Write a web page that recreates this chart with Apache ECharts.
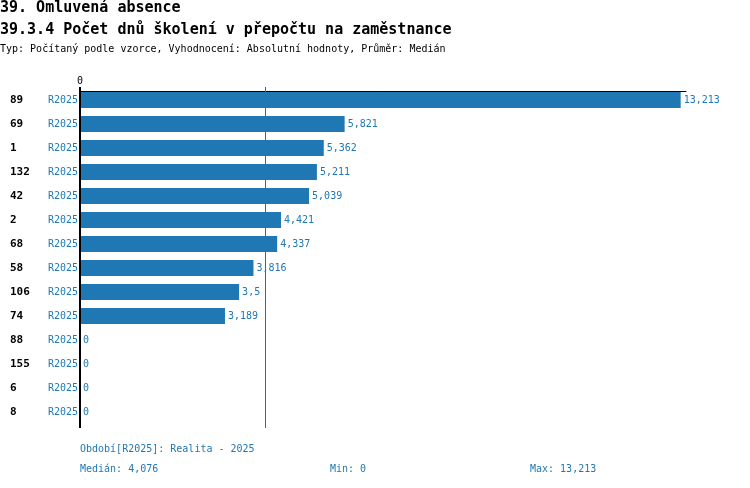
<!DOCTYPE html>
<html>
<head>
<meta charset="utf-8">
<script src="https://cdn.jsdelivr.net/npm/echarts@6/dist/echarts.min.js"></script>
<style>
  html, body { margin: 0; padding: 0; background: #fff; }
  #chart { width: 750px; height: 488px; }
</style>
</head>
<body>
<div id="chart"></div>
<script>
// units in the chart, top to bottom
const unitIds = ["89", "69", "1", "132", "42", "2", "68", "58", "106", "74", "88", "155", "6", "8"];
const period = "R2025";
const values = [13213, 5821, 5362, 5211, 5039, 4421, 4337, 3816, 3500, 3189, 0, 0, 0, 0];
const valueLabels = ["13,213", "5,821", "5,362", "5,211", "5,039", "4,421", "4,337", "3,816", "3,5", "3,189", "0", "0", "0", "0"];
const median = 4076;
const axisMax = 13330;

const FONT = "DejaVu Sans Mono";
const BLUE = "#1f77b4";

let chart = echarts.init(document.getElementById("chart"));

function txt(x, y, text, size, color, bold) {
  return {
    type: "text", left: x, top: y,
    style: {
      text: text, fontFamily: FONT, fontSize: size, fill: color,
      fontWeight: bold ? "bold" : "normal", verticalAlign: "middle"
    }
  };
}

// vertical rule at a given x value, a bit taller than the grid
function vRule(color, width, z) {
  return {
    type: "custom",
    z: z,
    silent: true,
    encode: { x: 0, y: 1 },
    renderItem: (params, api) => {
      let cs = params.coordSys;
      let x = Math.round(api.coord([api.value(0), 0])[0]) + (width % 2 ? 0.5 : 0);
      return {
        type: "line",
        shape: { x1: x, y1: cs.y - 1, x2: x, y2: cs.y + cs.height + 4 },
        style: { stroke: color, lineWidth: width }
      };
    }
  };
}

let option = {
  animation: false,
  textStyle: { fontFamily: FONT },
  grid: { left: 80, top: 88, width: 606, height: unitIds.length * 24 },
  xAxis: {
    type: "value",
    position: "top",
    min: 0,
    max: axisMax,
    offset: -3,
    splitLine: { show: false },
    axisTick: { show: false },
    axisLine: { show: true, lineStyle: { color: "#000", width: 1 } },
    axisLabel: {
      color: "#000", fontSize: 10, fontFamily: FONT, margin: 5,
      formatter: v => (v === 0 ? "0" : "")
    }
  },
  yAxis: {
    type: "category",
    inverse: true,
    data: unitIds,
    axisTick: { show: false },
    axisLine: { show: false },
    axisLabel: {
      margin: 2,
      formatter: v => `{id|${v}}{p|${period}}`,
      rich: {
        id: { fontFamily: FONT, fontWeight: "bold", fontSize: 11, color: "#000", width: 37, align: "left" },
        p: { fontFamily: FONT, fontSize: 10, color: BLUE, width: 31, align: "right" }
      }
    }
  },
  series: [
    // median line behind the bars
    Object.assign(vRule("#1f6fae", 1, 1), { data: [[median, 0]] }),
    {
      type: "bar",
      data: values,
      barWidth: 16,
      z: 5,
      itemStyle: { color: BLUE },
      label: {
        show: true, position: "right", distance: 3,
        color: BLUE, fontSize: 10, fontFamily: FONT,
        formatter: p => valueLabels[p.dataIndex]
      }
    },
    // zero line (left axis)
    Object.assign(vRule("#000", 2, 10), { data: [[0, 0]] })
  ],
  graphic: [
    txt(0, 1, "39. Omluvená absence", 15, "#000", true),
    txt(0, 23, "39.3.4 Počet dnů školení v přepočtu na zaměstnance", 15, "#000", true),
    txt(0, 44, "Typ: Počítaný podle vzorce, Vyhodnocení: Absolutní hodnoty, Průměr: Medián", 10, "#000", false),
    txt(80, 444, "Období[R2025]: Realita - 2025", 10, BLUE, false),
    txt(80, 464, "Medián: 4,076", 10, BLUE, false),
    txt(330, 464, "Min: 0", 10, BLUE, false),
    txt(530, 464, "Max: 13,213", 10, BLUE, false)
  ]
};

chart.setOption(option);
</script>
</body>
</html>
